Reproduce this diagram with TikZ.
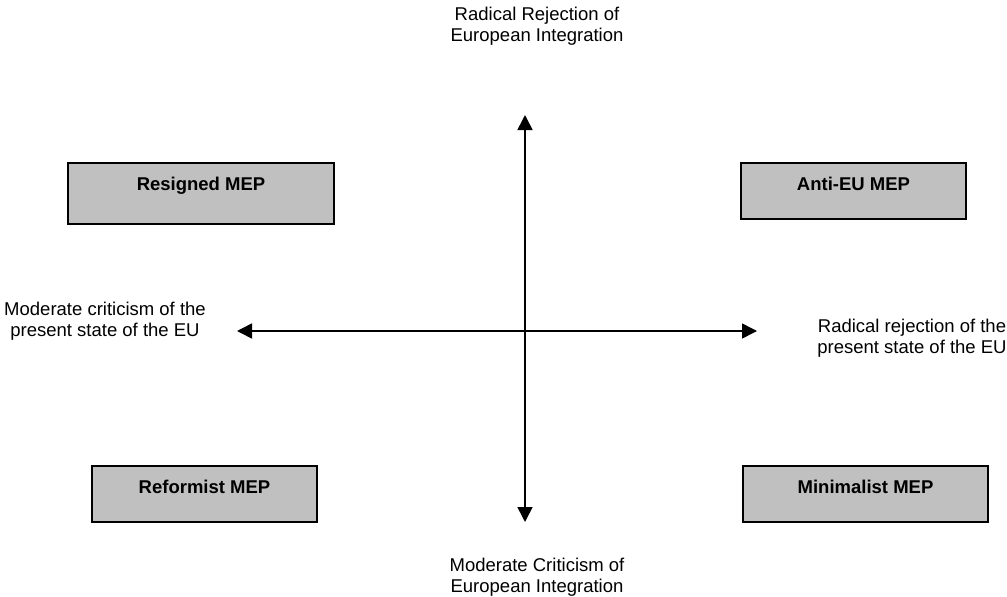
\documentclass[tikz,border=0pt]{standalone}
\usepackage{fontspec}
\setmainfont{Liberation Sans}
\usepackage{tikz}
\usetikzlibrary{arrows.meta,positioning}
\tikzset{every node/.append style={align=center}}
\definecolor{mepgray}{RGB}{192, 192, 192}

\begin{document}
\begin{tikzpicture}[
    x=1pt, y=-1pt,
    mepbox/.style={draw, fill=mepgray, line width=1.6pt, anchor=north, inner xsep=0pt, inner ysep=0pt,
        text height=27.5pt, text depth=28.5pt, font=\fontsize{18.5}{21.5}\selectfont\bfseries},
    axis/.style={{Triangle[length=15pt,width=15pt]}-{Triangle[length=15pt,width=15pt]}, line width=1.6pt},
    pole/.style={inner sep=0pt, font=\fontsize{18.5}{21.5}\selectfont}
]
    \useasboundingbox (0,0) rectangle (1007,597);

    % Quadrant boxes
    \node[mepbox, minimum width=266pt, text depth=33.5pt] (resigned) at (201,162) {Resigned MEP};
    \node[mepbox, minimum width=225pt] (antieu) at (853.5,162) {Anti-EU MEP};
    \node[mepbox, minimum width=225pt] (reformist) at (204.5,465) {Reformist MEP};
    \node[mepbox, minimum width=245pt] (minimalist) at (865.5,465) {Minimalist MEP};

    % Axis ends
    \coordinate (north) at (525,115);
    \coordinate (south) at (525,522);
    \coordinate (west) at (237,331);
    \coordinate (east) at (757,331);

    % Axes
    \draw[axis] (south) -- (north);
    \draw[axis] (west) -- (east);

    % Pole labels
    \node[pole] (rejectint) at (537,26) {Radical Rejection of\\European Integration};
    \node[pole] (criticint) at (537,577) {Moderate Criticism of\\European Integration};
    \node[pole] (criticeu) at (105,321) {Moderate criticism of the\\present state of the EU};
    \node[pole] (rejecteu) at (912,338) {Radical rejection of the\\present state of the EU};
\end{tikzpicture}
\end{document}
